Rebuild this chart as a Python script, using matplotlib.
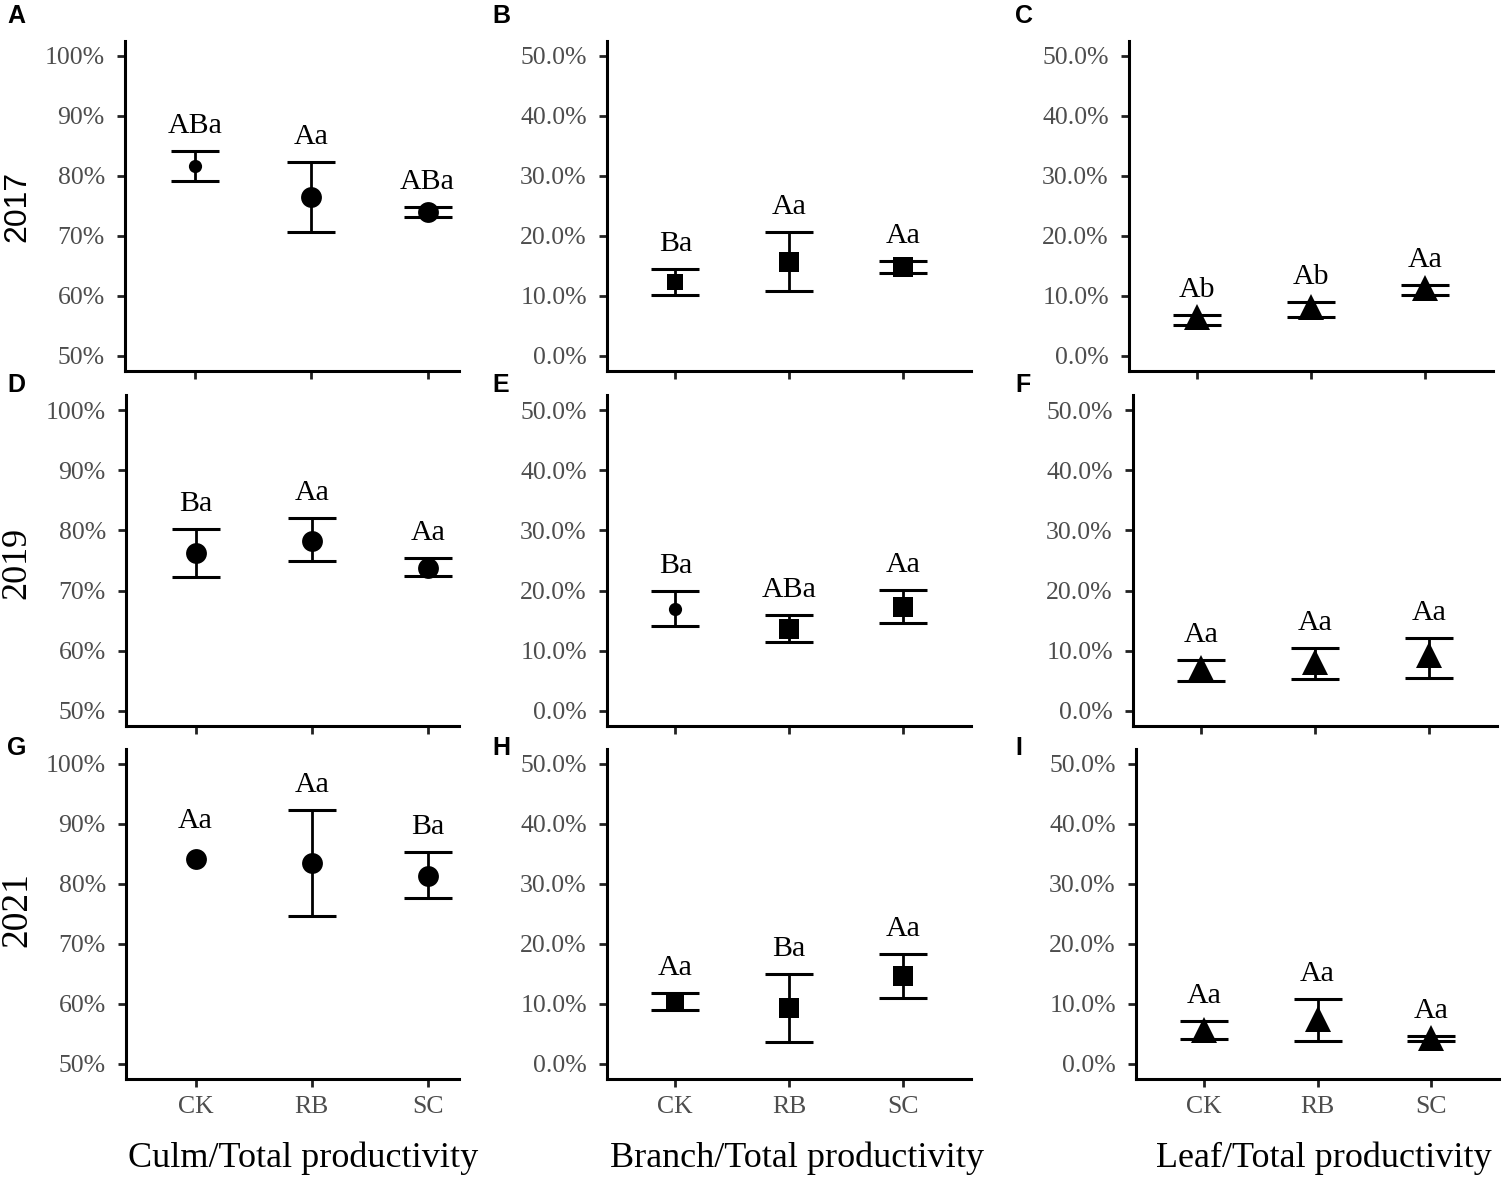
import math
import matplotlib.pyplot as plt
from matplotlib.ticker import FuncFormatter

treatments = ['CK', 'RB', 'SC']
years = ['2017', '2019', '2021']

NA = float('nan')  # no error bar shown in the original

# Culm/Total productivity (%), rows = years
culm_mean = [[81.7, 76.5, 74.0], [76.3, 78.3, 73.8], [84.1, 83.5, 81.3]]
culm_low = [[79.2, 70.7, 73.2], [72.2, 74.9, 72.4], [NA, 74.6, 77.6]]
culm_high = [[84.2, 82.4, 74.9], [80.3, 82.0, 75.4], [NA, 92.3, 85.4]]
culm_letters = [['ABa', 'Aa', 'ABa'], ['Ba', 'Aa', 'Aa'], ['Aa', 'Aa', 'Ba']]

# Branch/Total productivity (%)
branch_mean = [[12.4, 15.7, 14.8], [17.0, 13.7, 17.3], [10.2, 9.3, 14.6]]
branch_low = [[10.2, 10.8, 13.8], [14.1, 11.5, 14.6], [9.0, 3.6, 11.0]]
branch_high = [[14.5, 20.7, 15.9], [19.9, 16.0, 20.1], [11.8, 15.0, 18.3]]
branch_letters = [['Ba', 'Aa', 'Aa'], ['Ba', 'ABa', 'Aa'], ['Aa', 'Ba', 'Aa']]

# Leaf/Total productivity (%)
leaf_mean = [[6.5, 8.1, 11.4], [7.1, 8.2, 9.3], [5.7, 7.5, 4.3]]
leaf_low = [[5.1, 6.5, 10.1], [5.0, 5.3, 5.5], [4.2, 3.8, 3.8]]
leaf_high = [[6.9, 9.0, 11.9], [8.4, 10.5, 12.2], [7.2, 10.8, 4.7]]
leaf_letters = [['Ab', 'Ab', 'Aa'], ['Aa', 'Aa', 'Aa'], ['Aa', 'Aa', 'Aa']]

panel_tags = [['A', 'B', 'C'], ['D', 'E', 'F'], ['G', 'H', 'I']]
col_titles = ['Culm/Total productivity', 'Branch/Total productivity', 'Leaf/Total productivity']

SERIF = 'Liberation Serif'
SANS = 'Liberation Sans'
W, H = 1506, 1179

fig = plt.figure(figsize=(W / 100, H / 100), dpi=100)

def px_axes(x0, x1, y0, y1):
    # pixel box (top-left origin) -> figure axes
    return fig.add_axes([x0 / W, 1 - y1 / H, (x1 - x0) / W, (y1 - y0) / H])

row_y = [(41, 371), (395, 726), (749, 1079)]
col_x = [[(125, 459), (607, 971), (1129, 1493)],
         [(126, 459), (607, 971), (1133, 1497)],
         [(126, 459), (607, 971), (1136, 1499)]]

means = [culm_mean, branch_mean, leaf_mean]
lows = [culm_low, branch_low, leaf_low]
highs = [culm_high, branch_high, leaf_high]
letters = [culm_letters, branch_letters, leaf_letters]

# marker for each column, a few points are drawn differently in the original
col_marker = ['o', 's', '^']
col_msize = [15, 15, 19]
odd_markers = {(0, 0, 0): ('o', 9.5),   # A, CK
               (1, 0, 0): ('s', 12),    # B, CK
               (1, 1, 0): ('o', 9.5),   # E, CK
               (1, 2, 0): ('s', 13.5)}  # H, CK

for r in range(3):
    for c in range(3):
        x0, x1 = col_x[r][c]
        y0, y1 = row_y[r]
        ax = px_axes(x0, x1, y0, y1)
        m = means[c][r]
        lo = lows[c][r]
        hi = highs[c][r]
        xs = [1, 2, 3]
        for i in range(3):
            mk, ms = odd_markers.get((c, r, i), (col_marker[c], col_msize[c]))
            ax.plot(xs[i], m[i], marker=mk, ms=ms, mew=0, color='black',
                    linestyle='none', zorder=2)
            if math.isnan(hi[i]):
                anchor, off = m[i], 28
            else:
                ax.errorbar(xs[i], m[i], yerr=[[m[i] - lo[i]], [hi[i] - m[i]]],
                            fmt='none', ecolor='black', elinewidth=2.0,
                            capsize=17, capthick=2.2, zorder=3)
                anchor, off = hi[i], 18
            ax.annotate(letters[c][r][i], (xs[i], anchor), xytext=(0, off),
                        textcoords='offset points', ha='center', va='center',
                        fontsize=21.5, family=SERIF, color='black')

        if c == 0:
            ax.set_ylim(47.5, 102.5)
            ax.set_yticks([50, 60, 70, 80, 90, 100])
            ax.yaxis.set_major_formatter(FuncFormatter(lambda v, p: '%d%%' % v))
            ax.set_xlim(0.4, 3.27)
        else:
            ax.set_ylim(-2.5, 52.5)
            ax.set_yticks([0, 10, 20, 30, 40, 50])
            ax.yaxis.set_major_formatter(FuncFormatter(lambda v, p: '%.1f%%' % v))
            ax.set_xlim(0.4, 3.6)

        ax.set_xticks(xs)
        if r == 2:
            ax.set_xticklabels(treatments)
        else:
            ax.set_xticklabels([])

        for side in ['top', 'right']:
            ax.spines[side].set_visible(False)
        for side in ['left', 'bottom']:
            ax.spines[side].set_linewidth(2.2)
            ax.spines[side].set_color('black')
        ax.tick_params(axis='both', length=5.5, width=2.0, color='#222222',
                       labelcolor='#4D4D4D', labelsize=18.5)
        ax.tick_params(axis='y', pad=9)
        ax.tick_params(axis='x', pad=7)
        for lab in ax.get_xticklabels() + ax.get_yticklabels():
            lab.set_family(SERIF)

# panel tags
tag_x = [7, 492, 1015]
tag_y = [16, 385, 748]
for r in range(3):
    for c in range(3):
        fig.text(tag_x[c] / W, 1 - tag_y[r] / H, panel_tags[r][c], fontsize=18,
                 fontweight='bold', family=SANS, ha='left', va='center')

# year labels (2017 is set in a sans font in the original)
year_y = [206, 563, 910]
year_font = [(SANS, 23), (SERIF, 26), (SERIF, 27)]
for r in range(3):
    fam, fs = year_font[r]
    fig.text(17 / W, 1 - year_y[r] / H, years[r], rotation=90, fontsize=fs,
             family=fam, ha='center', va='center')

# column titles
title_x = [303, 797, 1324]
for c in range(3):
    fig.text(title_x[c] / W, 1 - 1158 / H, col_titles[c], fontsize=26,
             family=SERIF, ha='center', va='center')

fig.savefig('out.png', dpi=100, facecolor='white')
